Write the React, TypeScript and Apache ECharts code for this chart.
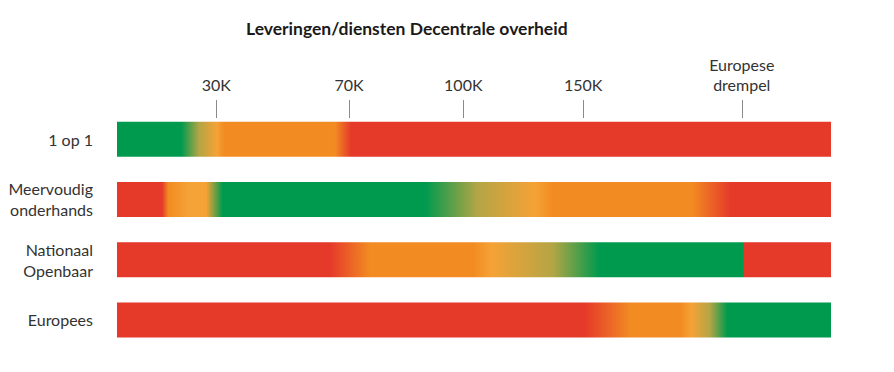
import React, { useEffect, useRef } from "react";
import * as echarts from "echarts";

// Schematic axis: positions 0..100 along the bar (not to scale in euros)
const AXIS_MAX = 100;
const tickLabels = ["30K", "70K", "100K", "150K", "Europese\ndrempel"];
const tickPositions = [13.9, 32.5, 48.5, 65.3, 87.5];

const categories = ["1 op 1", "Meervoudig\nonderhands", "Nationaal\nOpenbaar", "Europees"];
const barEnds = [100, 100, 100, 100];

const GREEN = "#009a4e";
const ORANGE = "#f28c22";
const LIGHT = "#f5a236";
const RED = "#e5392a";
const OLIVE = "#b4a545";

// colour stops per procedure: [axis position, colour]
const stops1op1: [number, string][] = [
  [0, GREEN], [9.0, GREEN], [11.5, OLIVE], [14, LIGHT], [15, ORANGE], [30.5, ORANGE], [32.8, RED], [100, RED],
];
const stopsMeervoudig: [number, string][] = [
  [0, RED], [6.3, RED], [7.2, ORANGE], [10, LIGHT], [12.5, LIGHT], [14.8, GREEN], [43.2, GREEN], [50.5, OLIVE],
  [58.5, LIGHT], [61, ORANGE], [80.5, ORANGE], [86, RED], [100, RED],
];
const stopsNationaal: [number, string][] = [
  [0, RED], [29.8, RED], [35.5, ORANGE], [50, ORANGE], [52.5, LIGHT], [61, OLIVE], [67.5, GREEN],
  [87.7, GREEN], [87.8, RED], [100, RED],
];
const stopsEuropees: [number, string][] = [
  [0, RED], [65.5, RED], [72, ORANGE], [79, ORANGE], [80.5, LIGHT], [83, OLIVE], [85.5, GREEN], [100, GREEN],
];
const allStops = [stops1op1, stopsMeervoudig, stopsNationaal, stopsEuropees];

const FONT = "Lato";

export default function App() {
  const ref = useRef<HTMLDivElement>(null);
  useEffect(() => {
    document.body.style.margin = "0";
    if (!ref.current) return;
    const chart = echarts.init(ref.current, null, { renderer: "svg" });
    const labelFor = (v: number) => {
      const i = tickPositions.findIndex((p) => Math.abs(p - v) < 1e-6);
      return i >= 0 ? tickLabels[i] : "";
    };
    chart.setOption({
      animation: false,
      textStyle: { fontFamily: FONT },
      title: {
        text: "Leveringen/diensten Decentrale overheid",
        left: 241,
        top: 14,
        textStyle: { fontFamily: FONT, fontSize: 17.5, fontWeight: "bold", color: "#1a1a1a" },
      },
      grid: { left: 117, right: 63, top: 109, bottom: 22 },
      xAxis: {
        type: "value",
        position: "top",
        min: 0,
        max: AXIS_MAX,
        offset: -9,
        splitLine: { show: false },
        axisLine: { show: false },
        axisTick: {
          show: true,
          length: 18,
          customValues: tickPositions,
          lineStyle: { color: "#8a8a8a", width: 1 },
        },
        axisLabel: {
          customValues: tickPositions,
          formatter: (v: number) => labelFor(v),
          margin: 24,
          fontFamily: FONT,
          fontSize: 16,
          lineHeight: 20,
          color: "#333",
          align: "center",
        },
      },
      yAxis: {
        type: "category",
        data: categories,
        inverse: true,
        axisLine: { show: false },
        axisTick: { show: false },
        axisLabel: {
          margin: 24,
          fontFamily: FONT,
          fontSize: 16,
          lineHeight: 21,
          color: "#333",
          align: "right",
        },
      },
      series: [
        {
          type: "bar",
          barWidth: 35,
          data: barEnds.map((v, i) => ({
            value: v,
            itemStyle: {
              color: new echarts.graphic.LinearGradient(
                0, 0, 1, 0,
                allStops[i].map(([p, c]) => ({ offset: p / v, color: c }))
              ),
            },
          })),
        },
      ],
    });
    return () => chart.dispose();
  }, []);
  return <div ref={ref} style={{ width: 894, height: 372 }} />;
}
